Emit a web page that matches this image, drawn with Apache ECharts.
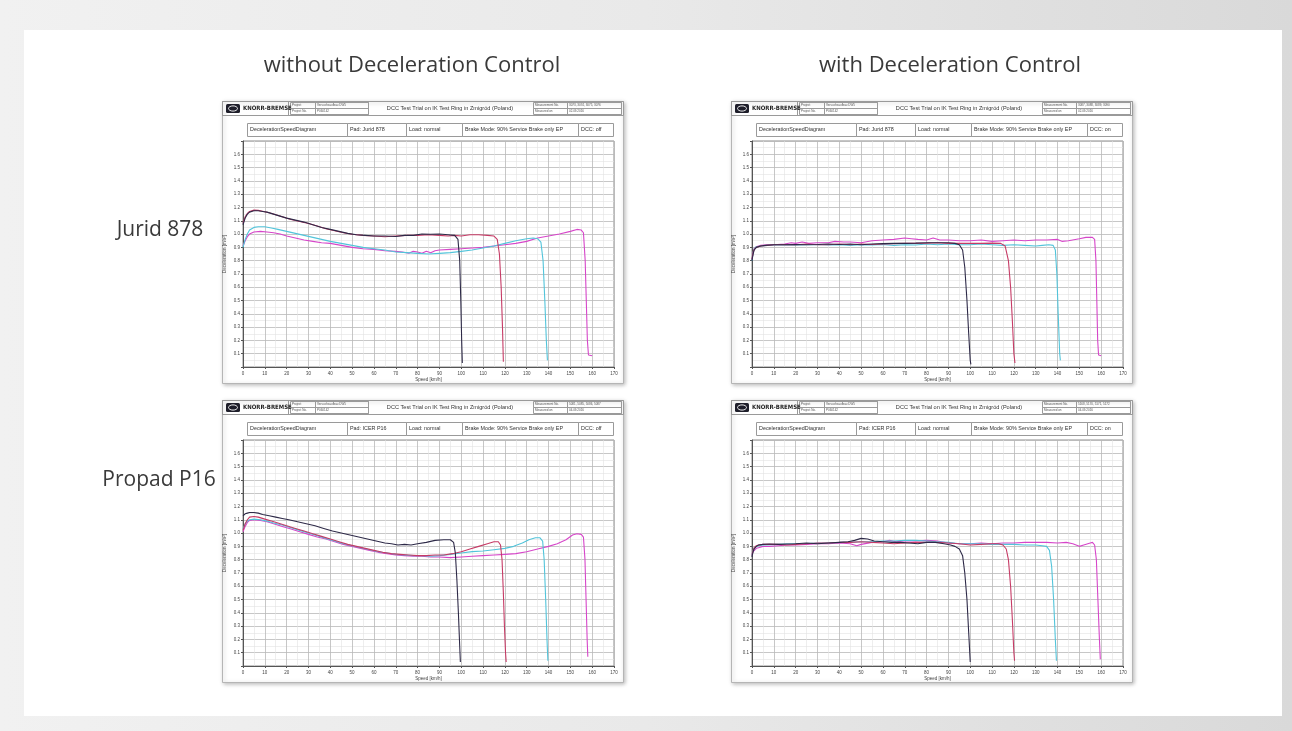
<!DOCTYPE html>
<html>
<head>
<meta charset="utf-8">
<title>DCC Test Trial - Deceleration Speed Diagrams</title>
<script src="https://cdn.jsdelivr.net/npm/echarts@6.0.0/dist/echarts.min.js"></script>
<style>
    html, body { margin: 0; padding: 0; }
    body {
        width: 1292px; height: 731px; overflow: hidden;
        background: linear-gradient(90deg, #f1f1f1 0%, #e9e9e9 50%, #d9d9d9 100%);
    }
    #card {
        position: absolute; left: 24px; top: 30px; width: 1258px; height: 686px;
        background: #fff;
    }
    #main { position: absolute; left: 0; top: 0; width: 1292px; height: 731px; }
</style>
</head>
<body>
<div id="card"></div>
<div id="main"></div>
<script>
(function () {
    'use strict';

    // ---- data (speed km/h, deceleration m/s²) ----
    const speedTicks = [0, 10, 20, 30, 40, 50, 60, 70, 80, 90, 100, 110, 120, 130, 140, 150, 160, 170];
    const decelTicks = [0.1, 0.2, 0.3, 0.4, 0.5, 0.6, 0.7, 0.8, 0.9, 1.0, 1.1, 1.2, 1.3, 1.4, 1.5, 1.6];
    const runNames = ['100 km/h', '120 km/h', '140 km/h', '160 km/h'];

    // Jurid 878, DCC off
    const jurOff100 = [[0,1.07],[1,1.12],[2,1.15],[3,1.165],[5,1.175],[7,1.175],[9,1.17],[11,1.165],[14,1.15],[17,1.135],[20,1.12],[24,1.105],[28,1.09],[32,1.07],[36,1.05],[40,1.035],[44,1.02],[48,1.005],[52,0.995],[56,0.99],[60,0.985],[65,0.985],[70,0.982],[74,0.99],[78,0.99],[82,1.0],[86,0.998],[90,1.0],[94,0.995],[97,0.99],[98.5,0.96],[99.3,0.8],[99.8,0.5],[100.2,0.2],[100.5,0.03]];
    const jurOff120 = [[0,1.08],[1,1.13],[2,1.155],[3,1.17],[5,1.18],[7,1.178],[9,1.172],[12,1.16],[15,1.145],[18,1.13],[22,1.11],[26,1.095],[30,1.08],[34,1.06],[38,1.04],[42,1.025],[46,1.01],[50,0.998],[55,0.99],[60,0.985],[65,0.98],[70,0.985],[75,0.99],[80,0.99],[85,0.995],[90,0.99],[94,0.985],[97,0.99],[100,0.985],[104,0.995],[108,0.995],[112,0.99],[115,0.985],[116.5,0.96],[117.5,0.85],[118.3,0.6],[118.9,0.3],[119.3,0.04]];
    const jurOff140 = [[0,0.9],[1,0.96],[2,1.0],[3,1.03],[5,1.05],[7,1.055],[10,1.055],[13,1.045],[16,1.035],[20,1.02],[24,1.005],[28,0.99],[32,0.975],[36,0.96],[40,0.945],[45,0.93],[50,0.915],[55,0.9],[60,0.89],[65,0.88],[70,0.865],[75,0.86],[80,0.855],[85,0.85],[90,0.855],[95,0.86],[100,0.87],[105,0.88],[110,0.895],[115,0.91],[120,0.93],[125,0.95],[130,0.965],[133,0.97],[135,0.965],[136.5,0.94],[137.5,0.8],[138.3,0.5],[139,0.2],[139.5,0.05]];
    const jurOff160 = [[0,0.91],[1,0.95],[2,0.98],[3,1.0],[5,1.015],[8,1.02],[11,1.015],[14,1.01],[17,1.0],[20,0.985],[24,0.97],[28,0.955],[32,0.945],[36,0.935],[40,0.93],[45,0.915],[50,0.9],[55,0.89],[60,0.885],[65,0.875],[70,0.87],[73,0.865],[76,0.855],[78,0.87],[80,0.865],[82,0.855],[84,0.87],[86,0.86],[88,0.875],[90,0.88],[95,0.885],[100,0.89],[105,0.895],[110,0.9],[115,0.91],[120,0.92],[125,0.93],[130,0.945],[135,0.97],[140,0.985],[145,1.0],[150,1.02],[153,1.035],[155,1.03],[156,1.01],[156.8,0.8],[157.3,0.5],[157.8,0.2],[158.3,0.09],[159,0.08],[160,0.085]];

    // Jurid 878, DCC on
    const jurOn100 = [[0,0.8],[0.5,0.85],[1,0.88],[2,0.9],[4,0.91],[6,0.915],[10,0.92],[15,0.92],[20,0.922],[25,0.92],[30,0.922],[35,0.925],[40,0.922],[45,0.925],[50,0.92],[55,0.925],[60,0.928],[65,0.93],[70,0.93],[75,0.932],[80,0.935],[85,0.935],[90,0.935],[93,0.93],[95,0.92],[96.5,0.88],[97.5,0.75],[98.5,0.5],[99.3,0.25],[100,0.05],[100.3,0.02]];
    const jurOn120 = [[0,0.81],[0.5,0.86],[1,0.885],[2,0.9],[4,0.91],[7,0.915],[10,0.92],[15,0.922],[20,0.92],[25,0.925],[30,0.92],[35,0.92],[40,0.925],[45,0.92],[50,0.925],[55,0.922],[60,0.925],[65,0.928],[70,0.93],[75,0.93],[80,0.932],[85,0.935],[90,0.93],[95,0.93],[100,0.93],[105,0.93],[110,0.932],[114,0.93],[116,0.91],[117.5,0.8],[118.5,0.6],[119.3,0.35],[120,0.1],[120.5,0.03]];
    const jurOn140 = [[0,0.8],[0.5,0.86],[1,0.89],[2,0.905],[4,0.91],[7,0.915],[10,0.918],[15,0.92],[20,0.918],[25,0.92],[30,0.922],[35,0.918],[40,0.92],[45,0.915],[50,0.92],[55,0.918],[60,0.922],[65,0.915],[70,0.92],[75,0.918],[80,0.925],[85,0.92],[90,0.925],[95,0.92],[100,0.92],[105,0.925],[110,0.92],[115,0.915],[120,0.92],[125,0.915],[130,0.91],[133,0.915],[136,0.92],[138,0.915],[139,0.88],[139.7,0.7],[140.3,0.4],[141,0.1],[141.3,0.05]];
    const jurOn160 = [[0,0.81],[0.5,0.86],[1,0.89],[2,0.905],[4,0.915],[7,0.92],[10,0.92],[15,0.925],[18,0.935],[20,0.93],[23,0.94],[26,0.93],[30,0.935],[35,0.935],[38,0.945],[42,0.94],[45,0.94],[50,0.935],[55,0.95],[60,0.955],[65,0.96],[70,0.97],[73,0.965],[76,0.96],[80,0.955],[83,0.97],[86,0.955],[90,0.955],[95,0.95],[100,0.95],[105,0.955],[110,0.945],[115,0.95],[120,0.955],[125,0.95],[130,0.955],[135,0.955],[140,0.96],[142,0.945],[145,0.95],[150,0.965],[153,0.975],[156,0.975],[157,0.96],[157.6,0.8],[158,0.5],[158.4,0.2],[158.8,0.09],[160,0.085]];

    // Propad P16 (ICER P16), DCC off
    const proOff100 = [[0,1.13],[1,1.145],[2,1.15],[3,1.155],[5,1.155],[7,1.15],[9,1.14],[12,1.13],[15,1.12],[18,1.11],[21,1.1],[25,1.085],[29,1.07],[33,1.055],[37,1.035],[41,1.015],[45,1.0],[49,0.985],[53,0.97],[57,0.955],[61,0.94],[65,0.925],[68,0.92],[71,0.91],[74,0.915],[77,0.91],[80,0.92],[84,0.93],[88,0.945],[92,0.95],[95,0.95],[96.5,0.93],[97.3,0.85],[98,0.65],[98.7,0.4],[99.3,0.15],[99.6,0.03]];
    const proOff120 = [[0,1.02],[1,1.07],[2,1.1],[3,1.12],[5,1.125],[7,1.12],[10,1.105],[13,1.09],[16,1.075],[20,1.055],[24,1.035],[28,1.015],[32,0.995],[36,0.975],[40,0.955],[44,0.935],[48,0.915],[52,0.9],[56,0.885],[60,0.87],[64,0.855],[68,0.845],[72,0.84],[76,0.835],[80,0.83],[84,0.83],[88,0.835],[92,0.835],[96,0.845],[100,0.86],[104,0.88],[108,0.9],[112,0.92],[115,0.935],[117,0.935],[118,0.91],[118.7,0.8],[119.3,0.55],[119.8,0.3],[120.3,0.1],[120.6,0.03]];
    const proOff140 = [[0,1.03],[1,1.07],[2,1.09],[3,1.1],[5,1.105],[8,1.1],[11,1.09],[14,1.075],[18,1.06],[22,1.04],[26,1.02],[30,1.0],[34,0.98],[38,0.96],[42,0.94],[46,0.92],[50,0.905],[54,0.89],[58,0.875],[62,0.86],[66,0.85],[70,0.84],[74,0.835],[78,0.83],[82,0.83],[86,0.825],[90,0.83],[95,0.84],[100,0.85],[105,0.86],[110,0.865],[115,0.875],[120,0.885],[124,0.9],[128,0.925],[131,0.95],[134,0.965],[136,0.965],[137.3,0.94],[138,0.8],[138.7,0.5],[139.3,0.2],[139.7,0.04]];
    const proOff160 = [[0,1.01],[1,1.05],[2,1.08],[3,1.095],[5,1.1],[8,1.095],[11,1.085],[14,1.07],[18,1.05],[22,1.03],[26,1.01],[30,0.99],[34,0.97],[38,0.955],[42,0.935],[46,0.915],[50,0.9],[54,0.885],[58,0.87],[62,0.855],[66,0.845],[70,0.835],[74,0.83],[78,0.825],[82,0.825],[86,0.82],[90,0.82],[95,0.815],[100,0.82],[105,0.825],[110,0.83],[115,0.835],[120,0.84],[125,0.845],[130,0.86],[135,0.88],[140,0.9],[144,0.92],[148,0.95],[151,0.985],[153,0.995],[155,0.99],[156,0.97],[156.7,0.8],[157.2,0.5],[157.7,0.2],[158,0.07]];

    // Propad P16 (ICER P16), DCC on
    const proOn100 = [[0,0.82],[0.5,0.86],[1,0.88],[2,0.9],[3,0.91],[5,0.915],[8,0.918],[12,0.915],[16,0.918],[20,0.92],[25,0.925],[30,0.92],[35,0.925],[40,0.93],[44,0.935],[47,0.945],[50,0.96],[53,0.955],[56,0.94],[60,0.935],[64,0.93],[68,0.93],[72,0.925],[76,0.92],[80,0.93],[84,0.93],[88,0.92],[91,0.91],[93,0.9],[95,0.88],[96.5,0.83],[97.5,0.7],[98.5,0.5],[99.3,0.25],[100,0.03]];
    const proOn120 = [[0,0.83],[0.5,0.87],[1,0.89],[2,0.905],[3,0.91],[5,0.915],[8,0.915],[12,0.915],[16,0.91],[20,0.915],[25,0.92],[30,0.925],[35,0.925],[40,0.93],[45,0.93],[50,0.935],[55,0.93],[60,0.925],[65,0.92],[70,0.925],[75,0.93],[80,0.93],[85,0.93],[90,0.925],[95,0.92],[100,0.91],[105,0.915],[110,0.92],[113,0.92],[115,0.91],[116.5,0.88],[117.5,0.8],[118.5,0.6],[119.3,0.35],[120,0.1],[120.3,0.04]];
    const proOn140 = [[0,0.83],[0.5,0.87],[1,0.89],[2,0.9],[3,0.905],[5,0.91],[8,0.912],[12,0.915],[16,0.918],[20,0.92],[25,0.922],[30,0.925],[35,0.925],[40,0.93],[45,0.93],[50,0.935],[55,0.935],[60,0.94],[65,0.94],[70,0.945],[75,0.945],[80,0.94],[85,0.935],[90,0.93],[95,0.92],[100,0.92],[105,0.92],[110,0.915],[115,0.915],[120,0.915],[125,0.91],[130,0.91],[133,0.905],[135,0.9],[136.3,0.87],[137.3,0.75],[138.2,0.5],[139,0.2],[139.5,0.04]];
    const proOn160 = [[0,0.84],[0.5,0.86],[1,0.875],[2,0.885],[3,0.89],[5,0.9],[8,0.9],[12,0.905],[16,0.91],[20,0.91],[25,0.915],[30,0.92],[35,0.92],[40,0.925],[45,0.92],[48,0.905],[50,0.915],[55,0.93],[60,0.935],[63,0.945],[66,0.935],[70,0.94],[75,0.94],[80,0.945],[85,0.94],[90,0.925],[95,0.92],[100,0.92],[105,0.925],[110,0.92],[115,0.925],[120,0.925],[125,0.93],[130,0.93],[135,0.93],[140,0.925],[144,0.93],[147,0.92],[150,0.9],[152,0.91],[155,0.925],[156,0.93],[157,0.91],[157.8,0.8],[158.5,0.5],[159.2,0.2],[159.6,0.05]];

    const runColors = ['#2e2a48', '#c63b66', '#52c4da', '#d646c9'];

    // panel layout (pixels) and header texts
    const panels = [
        { L: 222, T: 101, pad: 'Pad: Jurid 878', dcc: 'DCC: off', meas: '3073, 3074, 3075, 3076', date: '02.09.2016', runs: [jurOff100, jurOff120, jurOff140, jurOff160] },
        { L: 731, T: 101, pad: 'Pad: Jurid 878', dcc: 'DCC: on', meas: '3087, 3088, 3089, 3090', date: '02.09.2016', runs: [jurOn100, jurOn120, jurOn140, jurOn160] },
        { L: 222, T: 400, pad: 'Pad: ICER P16', dcc: 'DCC: off', meas: '5081, 5085, 5086, 5087', date: '04.09.2016', runs: [proOff100, proOff120, proOff140, proOff160] },
        { L: 731, T: 400, pad: 'Pad: ICER P16', dcc: 'DCC: on', meas: '5168, 5170, 5171, 5172', date: '04.09.2016', runs: [proOn100, proOn120, proOn140, proOn160] }
    ];
    const PW = 401, PH = 282;

    const SANS = '"Liberation Sans", Arial, sans-serif';
    const TITLE_FONT = '"Open Sans", "Noto Sans", sans-serif';

    function txt(x, y, text, size, opts) {
        opts = opts || {};
        return {
            type: 'text', silent: true, z: 5,
            style: {
                x: x, y: y, text: text,
                fontSize: size, fontFamily: opts.family || SANS,
                fontWeight: opts.weight || 'normal',
                fill: opts.color || '#333',
                align: opts.align || 'left', textAlign: opts.align || 'left',
                verticalAlign: 'middle', textVerticalAlign: 'middle'
            }
        };
    }

    function box(x, y, w, h, opts) {
        opts = opts || {};
        return {
            type: 'rect', silent: true, z: opts.z != null ? opts.z : 4,
            shape: { x: x + 0.5, y: y + 0.5, width: w, height: h, r: opts.r || 0 },
            style: Object.assign({ fill: 'none', stroke: '#9a9a9a', lineWidth: 1 }, opts.style || {})
        };
    }

    const graphics = [];
    // column / row captions
    graphics.push(txt(412, 66, 'without Deceleration Control', 22, { family: TITLE_FONT, color: '#3a3a3a', align: 'center' }));
    graphics.push(txt(950, 66, 'with Deceleration Control', 22, { family: TITLE_FONT, color: '#3a3a3a', align: 'center' }));
    graphics.push(txt(160, 230, 'Jurid 878', 21, { family: TITLE_FONT, color: '#3a3a3a', align: 'center' }));
    graphics.push(txt(159, 480, 'Propad P16', 21, { family: TITLE_FONT, color: '#3a3a3a', align: 'center' }));

    const grids = [], xAxes = [], yAxes = [], series = [];

    panels.forEach((p, i) => {
        const L = p.L, T = p.T;

        // sheet frame with light shadow
        graphics.push(box(L, T, PW, PH, { z: -10, style: { fill: '#fff', stroke: '#b5b5b5', shadowBlur: 4, shadowColor: 'rgba(0,0,0,0.25)', shadowOffsetX: 1, shadowOffsetY: 1 } }));

        // header row 1
        graphics.push(box(L, T, PW, 14));
        graphics.push(box(L, T, 66, 14));
        graphics.push({
            type: 'rect', silent: true, z: 5,
            shape: { x: L + 4, y: T + 3, width: 14, height: 9, r: 1.5 },
            style: { fill: '#1e1e2a' }
        });
        graphics.push({
            type: 'ellipse', silent: true, z: 6,
            shape: { cx: L + 11, cy: T + 7.5, rx: 4.5, ry: 2.6 },
            style: { fill: 'none', stroke: '#fff', lineWidth: 0.9 }
        });
        graphics.push(txt(L + 21, T + 7.5, 'KNORR-BREMSE', 6, { weight: 'bold', color: '#222', family: '"Liberation Sans Narrow", "DejaVu Sans Condensed", sans-serif' }));
        graphics.push(box(L + 68, T + 1, 78, 6));
        graphics.push(box(L + 68, T + 7, 78, 6));
        graphics.push(box(L + 93, T + 1, 53, 12));
        graphics.push(txt(L + 70, T + 4, 'Project', 3, { color: '#555' }));
        graphics.push(txt(L + 70, T + 10, 'Project No.', 3, { color: '#555' }));
        graphics.push(txt(L + 95, T + 4, 'Versuchsaufbau DW5', 3, { color: '#555' }));
        graphics.push(txt(L + 95, T + 10, 'P060142', 3, { color: '#555' }));
        graphics.push(txt(L + 228, T + 7.5, 'DCC Test Trial on IK Test Ring in Zmigród (Poland)', 5.6, { align: 'center', color: '#333' }));
        graphics.push(box(L + 311, T + 1, 88, 6));
        graphics.push(box(L + 311, T + 7, 88, 6));
        graphics.push(box(L + 345, T + 1, 54, 12));
        graphics.push(txt(L + 313, T + 4, 'Measurement No.', 3, { color: '#555' }));
        graphics.push(txt(L + 313, T + 10, 'Measured on', 3, { color: '#555' }));
        graphics.push(txt(L + 347, T + 4, p.meas, 3, { color: '#555' }));
        graphics.push(txt(L + 347, T + 10, p.date, 3, { color: '#555' }));

        // header row 2
        const cells = [
            [25, 100, 'DecelerationSpeedDiagram'],
            [125, 59, p.pad],
            [184, 56, 'Load: normal'],
            [240, 116, 'Brake Mode: 90% Service Brake only EP'],
            [356, 35, p.dcc]
        ];
        cells.forEach(c => {
            graphics.push(box(L + c[0], T + 22, c[1], 13));
            graphics.push(txt(L + c[0] + 3, T + 28.5, c[2], 5.4, { color: '#333' }));
        });

        // plot area
        grids.push({
            left: L + 21, top: T + 40, width: 371, height: 226,
            show: true, borderColor: '#8c8c8c', borderWidth: 1, backgroundColor: 'transparent'
        });
        xAxes.push({
            type: 'value', gridIndex: i, min: 0, max: 170, interval: 10,
            name: 'Speed [km/h]', nameLocation: 'middle', nameGap: 9,
            nameTextStyle: { fontSize: 4.5, color: '#444', fontFamily: SANS },
            axisLine: { onZero: false, lineStyle: { color: '#555', width: 1 } },
            axisTick: { show: true, length: 2, lineStyle: { color: '#555' } },
            axisLabel: {
                fontSize: 4.5, color: '#444', margin: 4, fontFamily: SANS,
                formatter: v => (speedTicks.indexOf(v) >= 0 ? String(v) : '')
            },
            splitLine: { show: true, lineStyle: { color: '#b9b9b9', width: 0.8 } },
            minorTick: { show: false, splitNumber: 2 },
            minorSplitLine: { show: true, lineStyle: { color: '#e2e2e2', width: 0.6 } }
        });
        yAxes.push({
            type: 'value', gridIndex: i, min: 0, max: 1.7, interval: 0.1,
            name: 'Deceleration [m/s²]', nameLocation: 'middle', nameGap: 16, nameRotate: 90,
            nameTextStyle: { fontSize: 4.5, color: '#444', fontFamily: SANS },
            axisLine: { show: true, lineStyle: { color: '#555', width: 1 } },
            axisTick: { show: true, length: 2, lineStyle: { color: '#555' } },
            axisLabel: {
                fontSize: 4.5, color: '#444', margin: 3, fontFamily: SANS,
                formatter: v => {
                    const r = Math.round(v * 10) / 10;
                    return decelTicks.indexOf(r) >= 0 ? r.toFixed(1) : '';
                }
            },
            splitLine: { show: true, lineStyle: { color: '#b9b9b9', width: 0.8 } },
            minorTick: { show: false, splitNumber: 2 },
            minorSplitLine: { show: true, lineStyle: { color: '#e2e2e2', width: 0.6 } }
        });

        // draw order: magenta below, black on top
        [3, 2, 1, 0].forEach(k => {
            series.push({
                type: 'line', name: runNames[k], xAxisIndex: i, yAxisIndex: i,
                data: p.runs[k], showSymbol: false, silent: true, animation: false,
                lineStyle: { color: runColors[k], width: 1.1 }, z: 3
            });
        });
    });

    const chart = echarts.init(document.getElementById('main'), null, { renderer: 'canvas' });
    chart.setOption({
        animation: false,
        grid: grids,
        xAxis: xAxes,
        yAxis: yAxes,
        series: series,
        graphic: { elements: graphics }
    });
})();
</script>
</body>
</html>
